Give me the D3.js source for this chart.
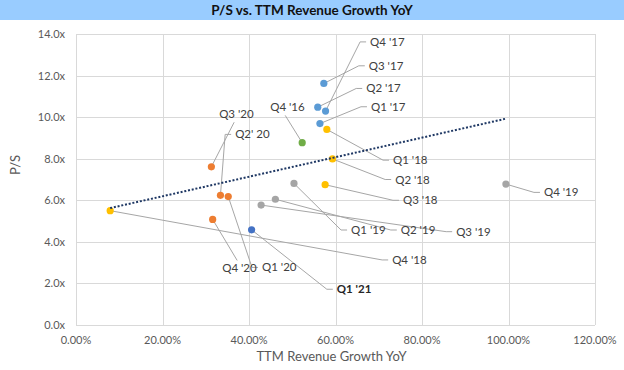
<!DOCTYPE html>
<html>
<head>
<meta charset="utf-8">
<script src="https://cdn.jsdelivr.net/npm/d3@7"></script>
<style>
  html, body { margin: 0; padding: 0; background: #fff; }
  #chart { width: 624px; height: 370px; }
  text { font-family: Lato, "Open Sans", sans-serif; }
</style>
</head>
<body>
<div id="chart"></div>
<script>
// quarterly points: TTM revenue growth (%) vs P/S multiple
const quarters = ["Q4 '16", "Q1 '17", "Q2 '17", "Q3 '17", "Q4 '17", "Q1 '18", "Q2 '18", "Q3 '18", "Q4 '18",
  "Q1 '19", "Q2 '19", "Q3 '19", "Q4 '19", "Q1 '20", "Q2' 20", "Q3 '20", "Q4 '20", "Q1 '21"];
const growth = [52.3, 56.4, 55.9, 57.3, 57.7, 58.0, 59.3, 57.6, 7.9,
  50.4, 46.1, 42.8, 99.4, 35.2, 33.4, 31.3, 31.6, 40.6];
const psMultiple = [8.77, 9.69, 10.48, 11.62, 10.29, 9.41, 7.99, 6.75, 5.50,
  6.81, 6.05, 5.77, 6.78, 6.18, 6.24, 7.61, 5.08, 4.58];
const years = ["16", "17", "17", "17", "17", "18", "18", "18", "18",
  "19", "19", "19", "19", "20", "20", "20", "20", "21"];

const xTicks = [0, 20, 40, 60, 80, 100, 120];
const yTicks = [0, 2, 4, 6, 8, 10, 12, 14];

// where each data label sits (left edge / middle), in data units
const labelGrowth = [44.9, 68.2, 67.1, 67.7, 68.0, 73.3, 73.8, 75.6, 73.1,
  63.6, 75.1, 87.9, 108.2, 43.0, 36.8, 33.1, 33.8, 60.3];
const labelPs = [10.47, 10.50, 11.38, 12.47, 13.62, 7.93, 7.00, 6.00, 3.13,
  4.57, 4.57, 4.49, 6.38, 2.77, 9.17, 10.14, 2.72, 1.72];

const yearColor = d3.scaleOrdinal()
  .domain(["16", "17", "18", "19", "20", "21"])
  .range(["#70AD47", "#5B9BD5", "#FFC000", "#A5A5A5", "#ED7D31", "#4472C4"]);

const W = 624, H = 370;
const margin = { top: 34, right: 29, bottom: 45, left: 76 };

const svg = d3.select("#chart").append("svg")
  .attr("width", W).attr("height", H);

// title bar
svg.append("rect").attr("x", 0).attr("y", 0).attr("width", W).attr("height", 20)
  .attr("fill", "#99CCFF");
svg.append("text").attr("x", W / 2).attr("y", 14.5)
  .attr("text-anchor", "middle")
  .style("font-size", "13.5px").style("font-weight", "bold").style("fill", "#111")
  .text("P/S vs. TTM Revenue Growth YoY");

const x = d3.scaleLinear().domain([0, 120]).range([margin.left, W - margin.right]);
const y = d3.scaleLinear().domain([0, 14]).range([H - margin.bottom, margin.top]);

// gridlines
svg.append("g").selectAll("line").data(yTicks).join("line")
  .attr("x1", x(0)).attr("x2", x(120))
  .attr("y1", d => Math.round(y(d)) + 0.5).attr("y2", d => Math.round(y(d)) + 0.5)
  .attr("stroke", "#D9D9D9");
svg.append("g").selectAll("line").data(xTicks).join("line")
  .attr("y1", y(0)).attr("y2", y(14))
  .attr("x1", d => Math.round(x(d)) + 0.5).attr("x2", d => Math.round(x(d)) + 0.5)
  .attr("stroke", "#D9D9D9");

// tick labels
svg.append("g").selectAll("text").data(yTicks).join("text")
  .attr("x", x(0) - 11).attr("y", d => y(d) + 4)
  .attr("text-anchor", "end")
  .style("font-size", "11px").style("fill", "#595959")
  .text(d => d3.format(".1f")(d) + "x");
svg.append("g").selectAll("text").data(xTicks).join("text")
  .attr("x", d => x(d)).attr("y", y(0) + 19)
  .attr("text-anchor", "middle")
  .style("font-size", "11px").style("fill", "#595959")
  .text(d => d3.format(".2f")(d) + "%");

// axis titles
svg.append("text").attr("x", (x(0) + x(120)) / 2 - 4).attr("y", 361)
  .attr("text-anchor", "middle")
  .style("font-size", "13px").style("fill", "#595959")
  .text("TTM Revenue Growth YoY");
svg.append("text")
  .attr("transform", `translate(20, ${y(7.7)}) rotate(-90)`)
  .attr("text-anchor", "middle")
  .style("font-size", "13px").style("fill", "#595959")
  .text("P/S");

const points = quarters.map((q, i) => ({
  name: q, gx: growth[i], ps: psMultiple[i], year: years[i],
  lx: labelGrowth[i], ly: labelPs[i]
}));

// leader lines
function leader(d) {
  const px = x(d.gx), py = y(d.ps);
  const lx = x(d.lx), ly = y(d.ly);
  if (lx - px > 12) {
    return `M${px},${py}L${lx - 10},${ly}L${lx - 4},${ly}`;
  }
  const cx = lx + 15;
  const cy = ly < py ? ly + 8 : ly - 8;
  return `M${px},${py}L${cx},${cy}`;
}
svg.append("g").selectAll("path").data(points).join("path")
  .attr("d", leader)
  .attr("fill", "none").attr("stroke", "#A6A6A6").attr("stroke-width", 1);

// markers
svg.append("g").selectAll("circle").data(points).join("circle")
  .attr("cx", d => x(d.gx)).attr("cy", d => y(d.ps)).attr("r", 3.6)
  .attr("fill", d => yearColor(d.year));

// linear trendline (least squares over all points)
const mx = d3.mean(growth), my = d3.mean(psMultiple);
const slope = d3.sum(growth, (g, i) => (g - mx) * (psMultiple[i] - my)) /
  d3.sum(growth, g => (g - mx) * (g - mx));
const icpt = my - slope * mx;
const [gMin, gMax] = d3.extent(growth);
svg.append("path")
  .datum([gMin, gMax])
  .attr("d", d3.line().x(d => x(d)).y(d => y(icpt + slope * d)))
  .attr("fill", "none").attr("stroke", "#1F3864")
  .attr("stroke-width", 2).attr("stroke-dasharray", "2,1.8");

// data labels
svg.append("g").selectAll("text").data(points).join("text")
  .attr("x", d => x(d.lx)).attr("y", d => y(d.ly) + 4)
  .style("font-size", "11.5px")
  .style("fill", d => d.year === "21" ? "#262626" : "#404040")
  .style("font-weight", d => d.year === "21" ? "bold" : "normal")
  .text(d => d.name);
</script>
</body>
</html>
